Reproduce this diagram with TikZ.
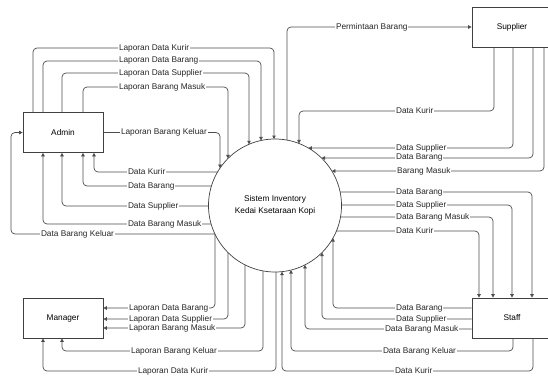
\documentclass[tikz,border=0pt]{standalone}
\usepackage{fontspec}
\setmainfont{Liberation Sans}
\usetikzlibrary{arrows.meta}
\newcommand\cirT[2]{\coordinate (#1) at ({#2},{205.5-sqrt(4422.25-(#2-275)^2)});}
\newcommand\cirB[2]{\coordinate (#1) at ({#2},{205.5+sqrt(4422.25-(#2-275)^2)});}
\newcommand\cirL[2]{\coordinate (#1) at ({275-sqrt(4422.25-(#2-205.5)^2)},{#2});}
\newcommand\cirR[2]{\coordinate (#1) at ({275+sqrt(4422.25-(#2-205.5)^2)},{#2});}
\begin{document}
\begin{tikzpicture}[x=1pt,y=-1pt,
  ent/.style={draw=black!75, line width=0.7pt, minimum width=80pt, minimum height=40pt, inner sep=0pt, font=\fontsize{8.3}{10}\selectfont},
  flow/.style={draw=black!70, line width=0.7pt, rounded corners=4pt, -{Triangle[length=3.5pt,width=3.5pt]}},
  lbl/.style={fill=white, inner sep=0.8pt, anchor=west, font=\fontsize{8.3}{10}\selectfont, text=black!85}]
\useasboundingbox (0,0) rectangle (548,381);

\node[draw=black!75, line width=0.7pt, circle, minimum size=133pt, inner sep=0pt, align=center, font=\fontsize{8.3}{12}\selectfont] (sys) at (275,205.5) {Sistem Inventory\\Kedai Ksetaraan Kopi};
\node[ent] (admin) at (63,132.5) {Admin};
\node[ent] (sup) at (512,27) {Supplier};
\node[ent] (man) at (63,318) {Manager};
\node[ent] (staff) at (512,318) {Staff};

% circle border points
\cirT{a1}{274}\cirT{a2}{261}\cirT{a3}{249}\cirT{a4}{228}\cirT{a5}{220}
\cirL{b1}{172}\cirL{b2}{186}\cirL{b3}{206}\cirL{b4}{224}\cirL{b5}{234}
\cirT{s0}{287}\cirT{s1}{299}\cirR{s2}{148}\cirR{s3}{158}\cirR{s4}{171}
\cirR{t1}{192}\cirR{t2}{205}\cirR{t3}{217}\cirR{t4}{231}
\cirB{u1}{333}\cirB{u2}{322}\cirB{u3}{305}\cirB{u4}{291}\cirB{u5}{282}
\cirB{m1}{215}\cirB{m2}{228}\cirB{m3}{245}\cirB{m4}{263}\cirB{m5}{276}

% Admin -> system
\draw[flow] ([xshift=-30pt]admin.north) |- (274,48) -- (a1);
\draw[flow] ([xshift=-20pt]admin.north) |- (261,61) -- (a2);
\draw[flow] ([xshift=-1pt]admin.north) |- (249,73) -- (a3);
\draw[flow] ([xshift=20pt]admin.north) |- (228,87) -- (a4);
\draw[flow] (admin.east) -| (a5);
\node[lbl] (la1) at (118,48) {Laporan Data Kurir};
\node[lbl] (la2) at (118,61) {Laporan Data Barang};
\node[lbl] (la3) at (118,73) {Laporan Data Supplier};
\node[lbl] (la4) at (118,87) {Laporan Barang Masuk};
\node[lbl] (la5) at (120,132.5) {Laporan Barang Keluar};

% system -> Admin
\draw[flow] (b1) -| ([xshift=31pt]admin.south);
\draw[flow] (b2) -| ([xshift=20pt]admin.south);
\draw[flow] (b3) -| ([xshift=-1pt]admin.south);
\draw[flow] (b4) -| ([xshift=-20pt]admin.south);
\draw[flow] (b5) -- (11,234) |- (admin.west);
\node[lbl] (lb1) at (127,172) {Data Kurir};
\node[lbl] (lb2) at (127,186) {Data Barang};
\node[lbl] (lb3) at (127,206) {Data Supplier};
\node[lbl] (lb4) at (127,224) {Data Barang Masuk};
\node[lbl] (lb5) at (40,234) {Data Barang Keluar};

% system <-> Supplier
\draw[flow] (s0) |- (sup.west);
\draw[flow] ([xshift=-18pt]sup.south) |- (299,111) -- (s1);
\draw[flow] ([xshift=1pt]sup.south) |- (s2);
\draw[flow] ([xshift=21pt]sup.south) |- (s3);
\draw[flow] ([xshift=32pt]sup.south) |- (s4);
\node[lbl] (ls0) at (335,27) {Permintaan Barang};
\node[lbl] (ls1) at (395,111) {Data Kurir};
\node[lbl] (ls2) at (395,148) {Data Supplier};
\node[lbl] (ls3) at (395,158) {Data Barang};
\node[lbl] (ls4) at (396,171) {Barang Masuk};

% system -> Staff
\draw[flow] (t1) -| ([xshift=20pt]staff.north);
\draw[flow] (t2) -| ([xshift=0pt]staff.north);
\draw[flow] (t3) -| ([xshift=-19pt]staff.north);
\draw[flow] (t4) -| ([xshift=-33pt]staff.north);
\node[lbl] (lt1) at (395,192) {Data Barang};
\node[lbl] (lt2) at (395,205) {Data Supplier};
\node[lbl] (lt3) at (395,217) {Data Barang Masuk};
\node[lbl] (lt4) at (395,231) {Data Kurir};

% Staff -> system
\draw[flow] ([yshift=10pt]staff.west) -| (u1);
\draw[flow] ([yshift=-1pt]staff.west) -| (u2);
\draw[flow] ([yshift=-11pt]staff.west) -| (u3);
\draw[flow] ([xshift=1pt]staff.south) |- (291,351) -- (u4);
\draw[flow] ([xshift=21pt]staff.south) |- (282,371) -- (u5);
\node[lbl] (lu1) at (395,308) {Data Barang};
\node[lbl] (lu2) at (395,319) {Data Supplier};
\node[lbl] (lu3) at (384,329) {Data Barang Masuk};
\node[lbl] (lu4) at (382,351) {Data Barang Keluar};
\node[lbl] (lu5) at (394,371) {Data Kurir};

% system -> Manager
\draw[flow] (m1) |- ([yshift=10pt]man.east);
\draw[flow] (m2) |- ([yshift=-1pt]man.east);
\draw[flow] (m3) |- ([yshift=-10pt]man.east);
\draw[flow] (m4) |- (62,351) -- ([xshift=-1pt]man.south);
\draw[flow] (m5) |- (43,371) -- ([xshift=-20pt]man.south);
\node[lbl] (lm1) at (128,308) {Laporan Data Barang};
\node[lbl] (lm2) at (128,319) {Laporan Data Supplier};
\node[lbl] (lm3) at (128,328) {Laporan Barang Masuk};
\node[lbl] (lm4) at (130,351) {Laporan Barang Keluar};
\node[lbl] (lm5) at (137,371) {Laporan Data Kurir};
\end{tikzpicture}
\end{document}
